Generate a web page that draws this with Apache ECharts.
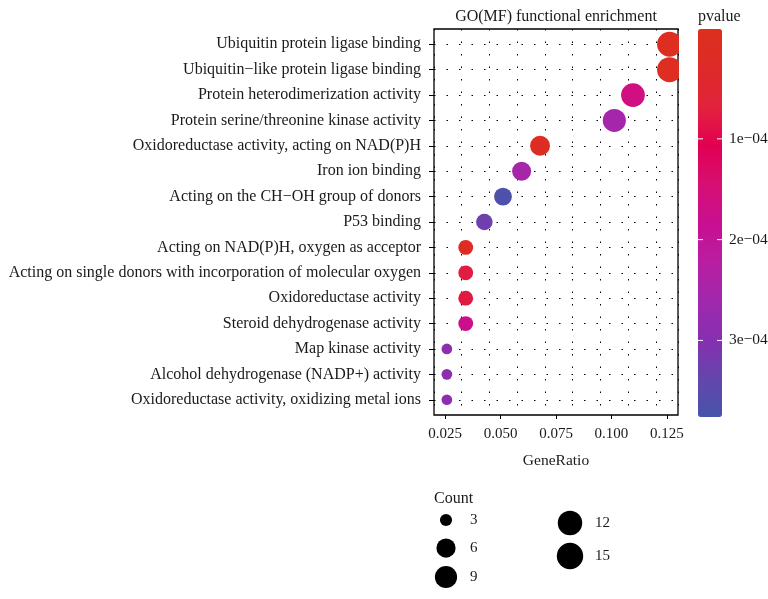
<!DOCTYPE html>
<html>
<head>
<meta charset="utf-8">
<script src="https://cdn.jsdelivr.net/npm/echarts@6/dist/echarts.min.js"></script>
<style>
html,body{margin:0;padding:0;background:#fff;}
#chart{width:768px;height:599px;}
</style>
</head>
<body>
<div id="chart"></div>
<script>
// ---------------- data ----------------
const CATEGORIES = [
  'Ubiquitin protein ligase binding',
  'Ubiquitin\u2212like protein ligase binding',
  'Protein heterodimerization activity',
  'Protein serine/threonine kinase activity',
  'Oxidoreductase activity, acting on NAD(P)H',
  'Iron ion binding',
  'Acting on the CH\u2212OH group of donors',
  'P53 binding',
  'Acting on NAD(P)H, oxygen as acceptor',
  'Acting on single donors with incorporation of molecular oxygen',
  'Oxidoreductase activity',
  'Steroid dehydrogenase activity',
  'Map kinase activity',
  'Alcohol dehydrogenase (NADP+) activity',
  'Oxidoreductase activity, oxidizing metal ions'
];
const GENE_RATIO = [0.1262, 0.1262, 0.1097, 0.1013, 0.0678, 0.0595, 0.0511, 0.0427, 0.0343, 0.0343, 0.0343, 0.0343, 0.0258, 0.0258, 0.0258];
const COUNTS = [15, 15, 13, 12, 8, 7, 6, 5, 4, 4, 4, 4, 3, 3, 3];
const PVALUES = [1.2e-6, 2.5e-6, 1.64e-4, 2.53e-4, 1.5e-5, 2.49e-4, 3.67e-4, 3.26e-4, 1.8e-5, 7.6e-5, 7.8e-5, 1.76e-4, 2.87e-4, 2.9e-4, 2.85e-4];
const X_TICKS = [0.025, 0.05, 0.075, 0.1, 0.125];
const P_TICKS = [1e-4, 2e-4, 3e-4];
const P_TICK_LABELS = ['1e\u221204', '2e\u221204', '3e\u221204'];
const SIZE_BREAKS = [3, 6, 9, 12, 15];

// ---------------- styling / layout ----------------
const FONT = '"Liberation Serif", "DejaVu Serif", serif';
const TXT = '#1a1a1a';
const G = {left: 434, top: 29, width: 244, height: 386};
const CB = {left: 698, top: 29, width: 24, height: 388};
const P_MIN = -9e-6, P_MAX = 3.76e-4;
const COLOR_STOPS = ['#DC301E', '#DE2A28', '#E1233C', '#E10052', '#D70F73', '#C80F91', '#B91EA0', '#A028AD', '#8630B0', '#6545AC', '#4655AA'];
function sizeOf(c) { return 10.7 + 14.3 * Math.sqrt((c - 3) / 12); }

const data = CATEGORIES.map((c, i) => [GENE_RATIO[i], i + 1, PVALUES[i], COUNTS[i]]);
const rowIdx = CATEGORIES.map((c, i) => i + 1);

const graphics = [];
// cover part of circles falling outside the panel (ggplot clips to panel)
graphics.push({type: 'rect', z: 10, silent: true,
  shape: {x: G.left + G.width + 1, y: G.top - 15, width: CB.left - (G.left + G.width) - 2, height: G.height + 15},
  style: {fill: '#fff'}});
// title
graphics.push({type: 'text', z: 20, x: G.left + G.width / 2, y: 17,
  style: {text: 'GO(MF) functional enrichment', font: '16px ' + FONT, fill: TXT, align: 'center', verticalAlign: 'middle'}});
// colorbar title
graphics.push({type: 'text', z: 20, x: CB.left, y: 17,
  style: {text: 'pvalue', font: '16px ' + FONT, fill: TXT, align: 'left', verticalAlign: 'middle'}});
// colorbar ticks + labels
P_TICKS.forEach((v, k) => {
  const y = CB.top + (v - P_MIN) / (P_MAX - P_MIN) * CB.height;
  graphics.push({type: 'line', z: 20, shape: {x1: CB.left, y1: y, x2: CB.left + 5, y2: y}, style: {stroke: '#fff', lineWidth: 1}});
  graphics.push({type: 'line', z: 20, shape: {x1: CB.left + CB.width - 5, y1: y, x2: CB.left + CB.width, y2: y}, style: {stroke: '#fff', lineWidth: 1}});
  graphics.push({type: 'text', z: 20, x: CB.left + CB.width + 7, y: y,
    style: {text: P_TICK_LABELS[k], font: '15.5px ' + FONT, fill: TXT, align: 'left', verticalAlign: 'middle'}});
});
// size legend
graphics.push({type: 'text', z: 20, x: 434, y: 499,
  style: {text: 'Count', font: '16px ' + FONT, fill: TXT, align: 'left', verticalAlign: 'middle'}});
const LEG_POS = [[446, 520], [446, 548], [446, 577], [570, 523], [570, 556]];
SIZE_BREAKS.forEach((c, k) => {
  const [cx, cy] = LEG_POS[k];
  graphics.push({type: 'circle', z: 20, shape: {cx: cx, cy: cy, r: sizeOf(c) / 2 + 0.7}, style: {fill: '#000'}});
  graphics.push({type: 'text', z: 20, x: k < 3 ? 470 : 595, y: cy,
    style: {text: String(c), font: '15px ' + FONT, fill: TXT, align: 'left', verticalAlign: 'middle'}});
});

const gridLine = {show: true, lineStyle: {color: '#000', width: 1, type: [1.5, 11]}};

const option = {
  backgroundColor: '#fff',
  animation: false,
  textStyle: {fontFamily: FONT},
  grid: {left: G.left, top: G.top, width: G.width, height: G.height, show: true,
    borderColor: '#000', borderWidth: 1.3, backgroundColor: 'transparent', containLabel: false},
  xAxis: [{
    type: 'value', min: 0.02, max: 0.13, interval: 0.025,
    name: 'GeneRatio', nameLocation: 'middle', nameGap: 38,
    nameTextStyle: {fontFamily: FONT, fontSize: 15.5, color: TXT},
    axisLine: {show: false},
    axisTick: {show: true, length: 4, customValues: X_TICKS, lineStyle: {color: '#000'}},
    axisLabel: {customValues: X_TICKS, fontFamily: FONT, fontSize: 15, color: TXT, margin: 12,
      formatter: v => Number(v).toFixed(3)},
    splitLine: {show: false}
  }, {
    // grid-only axis: major + minor vertical grid lines (every 0.0125)
    type: 'value', position: 'top', min: 0.02, max: 0.13, interval: 0.0125,
    axisLine: {show: false}, axisTick: {show: false}, axisLabel: {show: false},
    splitLine: gridLine
  }],
  yAxis: {
    type: 'value', min: 0.4, max: 15.6, interval: 1, inverse: true,
    axisLine: {show: false},
    axisTick: {show: true, length: 5, customValues: rowIdx, lineStyle: {color: '#000'}},
    axisLabel: {customValues: rowIdx, fontFamily: FONT, fontSize: 16, color: TXT, margin: 13,
      formatter: v => CATEGORIES[Math.round(v) - 1] || ''},
    splitLine: gridLine
  },
  visualMap: {
    type: 'continuous', min: P_MIN, max: P_MAX, dimension: 2, seriesIndex: 0,
    inverse: true, orient: 'vertical', left: CB.left, top: CB.top,
    itemWidth: CB.width, itemHeight: CB.height, padding: 0,
    calculable: false, hoverLink: false, text: null, showLabel: false,
    inRange: {color: COLOR_STOPS}
  },
  series: [{
    type: 'scatter', data: data, z: 3, xAxisIndex: 0,
    symbolSize: d => sizeOf(d[3]),
    itemStyle: {opacity: 1}
  }],
  graphic: graphics
};

const chart = echarts.init(document.getElementById('chart'), null, {renderer: 'canvas'});
chart.setOption(option);
</script>
</body>
</html>
